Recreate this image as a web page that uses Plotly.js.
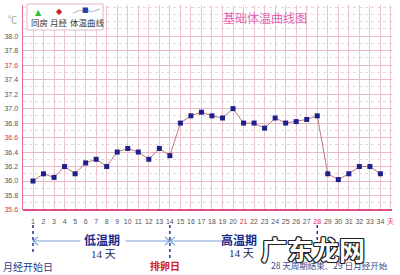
<!DOCTYPE html>
<html><head><meta charset="utf-8">
<script src="https://cdn.plot.ly/plotly-3.0.1.min.js"></script>
<style>html,body{margin:0;padding:0;background:#fff}#chart{width:400px;height:275px}</style>
</head><body><div id="chart"></div>
<script>
// ---- data ----
const days = [1,2,3,4,5,6,7,8,9,10,11,12,13,14,15,16,17,18,19,20,21,22,23,24,25,26,27,28,29,30,31,32,33,34];
const temps = [36.0,36.1,36.05,36.2,36.1,36.25,36.3,36.2,36.4,36.45,36.4,36.3,36.45,36.35,
               36.8,36.9,36.95,36.9,36.87,37.0,36.8,36.8,36.73,36.87,36.8,36.82,36.85,36.9,
               36.1,36.02,36.1,36.2,36.2,36.1];
const mensesDays = [1,2,3,4,5,6,29,30,31,32,33,34];
const intercourseDays = [14];
const yTickVals = [35.6,35.8,36.0,36.2,36.4,36.6,36.8,37.0,37.2,37.4,37.6,37.8,38.0];
const redYTicks = [35.6,36.6,37.6];
const xTickVals = [1,2,3,4,5,6,7,8,9,10,11,12,13,14,15,16,17,18,19,20,21,22,23,24,25,26,27,28,29,30,31,32,33,34,35];
const xTickText = ['1','2','3','4','5','6','7','8','9','10','11','12','13','14','15','16','17','18','19','20','21','22','23','24','25','26','27','28','29','30','31','32','33','34','天'];
const redXTicks = ['21','28','天'];
const cycleStart = 1, ovulationDay = 14, cycleEnd = 28;
const phaseLabels = ['低温期','高温期'];
const phaseLength = ['14 天','14 天'];

// ---- geometry helpers (pixel -> paper) ----
const L=23, R=392, T=5, B=210;
const px = p => (p-L)/(R-L);
const py = p => (B-p)/(B-T);
const CJK = '"Noto Sans CJK SC", "Liberation Sans", sans-serif';

const yText = yTickVals.map(v => redYTicks.includes(v)
   ? `<span style="color:#e03050">${v.toFixed(1)}</span>` : v.toFixed(1));
const xText = xTickText.map(t => redXTicks.includes(t)
   ? `<span style="color:#e03050">${t}</span>` : t);

const traces = [
  {x: days, y: temps, type:'scatter', mode:'lines+markers',
   line:{color:'#c07878', width:1},
   marker:{symbol:'square', size:5, color:'#1e1e8c'}, cliponaxis:false},
  {x: mensesDays, y: mensesDays.map(()=>35.55), type:'scatter', mode:'markers',
   marker:{symbol:'diamond', size:7, color:'#e02030'}, cliponaxis:false},
  {x: intercourseDays, y: intercourseDays.map(()=>35.55), type:'scatter', mode:'markers',
   marker:{symbol:'triangle-up', size:7, color:'#30c030'}, cliponaxis:false}
];

const yA = py(241), ch = 0.0195, cw = 0.48;
const arrowCol = '#7fa4d8';
const shapes = [
  // legend box
  {type:'rect', xref:'paper', yref:'paper', x0:px(27), x1:px(103), y0:py(30), y1:py(4),
   line:{color:'#e0b8c8', width:1}, fillcolor:'#ffffff', layer:'above'},
  // bottom axis line
  {type:'line', xref:'paper', yref:'paper', x0:0, x1:1, y0:0, y1:0, line:{color:'#e0508a', width:2}},
  // dotted markers
  {type:'line', xref:'x', yref:'paper', x0:cycleStart, x1:cycleStart, y0:py(225), y1:py(254), line:{color:'#223388', width:1.5, dash:'dot'}},
  {type:'line', xref:'x', yref:'paper', x0:ovulationDay, x1:ovulationDay, y0:py(225), y1:py(258), line:{color:'#223388', width:1.5, dash:'dot'}},
  {type:'line', xref:'x', yref:'paper', x0:cycleEnd, x1:cycleEnd, y0:py(225), y1:py(248), line:{color:'#223388', width:1.5, dash:'dot'}},
  // low phase arrow
  {type:'path', xref:'x', yref:'paper', path:`M ${cycleStart+cw} ${yA+ch} L ${cycleStart} ${yA} L ${cycleStart+cw} ${yA-ch} M ${cycleStart} ${yA} L 5.5 ${yA}`, line:{color:arrowCol, width:1.2}},
  {type:'path', xref:'x', yref:'paper', path:`M 9.8 ${yA} L ${ovulationDay} ${yA} M ${ovulationDay-cw} ${yA+ch} L ${ovulationDay} ${yA} L ${ovulationDay-cw} ${yA-ch}`, line:{color:arrowCol, width:1.2}},
  // high phase arrow
  {type:'path', xref:'x', yref:'paper', path:`M ${ovulationDay+cw} ${yA+ch} L ${ovulationDay} ${yA} L ${ovulationDay+cw} ${yA-ch} M ${ovulationDay} ${yA} L 18.9 ${yA}`, line:{color:arrowCol, width:1.2}},
  // legend line for temperature curve
  {type:'path', xref:'paper', yref:'paper', path:`M ${px(73)} ${py(13)} Q ${px(80)} ${py(9)} ${px(86)} ${py(11)} T ${px(100)} ${py(9)}`, line:{color:'#a8b4d8', width:1}, layer:'above'}
];

const ann = [];
function A(o){ ann.push(Object.assign({showarrow:false, xref:'paper', yref:'paper', xanchor:'center', yanchor:'middle'}, o)); }
A({x:px(265), y:py(17), text:'基础体温曲线图', font:{family:CJK, size:12, color:'#e066b4'}});
A({x:px(12), y:py(20), text:'℃', font:{family:CJK, size:9, color:'#999'}});
// legend
A({x:px(38), y:py(12), text:'▲', font:{family:'DejaVu Sans', size:8, color:'#30c030'}});
A({x:px(59), y:py(11), text:'◆', font:{family:'DejaVu Sans', size:8, color:'#d02030'}});
A({x:px(85), y:py(10), text:'■', font:{family:'DejaVu Sans', size:7, color:'#2a3aa8'}});
A({x:px(39), y:py(22), text:'同房', font:{family:CJK, size:8.5, color:'#333'}});
A({x:px(59), y:py(22), text:'月经', font:{family:CJK, size:8.5, color:'#333'}});
A({x:px(87), y:py(22), text:'体温曲线', font:{family:CJK, size:8.5, color:'#333'}});
// phase labels
A({x:px(102), y:py(240), text:'<b>'+phaseLabels[0]+'</b>', font:{family:CJK, size:12, color:'#1a2a8a'}});
A({x:px(103), y:py(254), text:phaseLength[0], font:{family:'"Liberation Serif", '+CJK, size:11, color:'#1a2a5a'}});
A({x:px(239), y:py(240), text:'<b>'+phaseLabels[1]+'</b>', font:{family:CJK, size:12, color:'#1a2a8a'}});
A({x:px(241), y:py(253), text:phaseLength[1], font:{family:'"Liberation Serif", '+CJK, size:11, color:'#1a2a5a'}});
A({x:px(28), y:py(266), text:'月经开始日', font:{family:CJK, size:10, color:'#2a3a8a'}});
A({x:px(165), y:py(265), text:'<b>排卵日</b>', font:{family:CJK, size:10, color:'#d01818'}});
A({x:px(329), y:py(265), text:'28 天周期结束、29 日月经开始', font:{family:CJK, size:8.5, color:'#3a4a8a'}});
// watermark with outline
const wm = {x:px(313), y:py(248), text:'<b>广东龙网</b>'};
[[-1,0],[1,0],[0,-1],[0,1],[-1,-1],[1,1],[-1,1],[1,-1]].forEach(([dx,dy])=>
  A(Object.assign({}, wm, {xshift:dx, yshift:dy, font:{family:CJK, size:26, color:'#222'}})));
A(Object.assign({}, wm, {font:{family:CJK, size:26, color:'#ffffff'}}));

const layout = {
  width:400, height:275,
  margin:{l:L, r:400-R, t:T, b:275-B},
  paper_bgcolor:'#fff', plot_bgcolor:'#fff',
  showlegend:false,
  xaxis:{range:[0.05,35.1], tickmode:'array', tickvals:xTickVals, ticktext:xText,
    showgrid:true, gridcolor:'#ecc4cc', gridwidth:1, zeroline:false, showline:false,
    ticks:'', ticklabelstandoff:6,
    tickfont:{family:'Liberation Sans, Arial', size:7, color:'#555'}},
  yaxis:{range:[35.6,38.43], tickmode:'array', tickvals:yTickVals, ticktext:yText,
    showgrid:true, gridcolor:'#eab8c4', gridwidth:1, zeroline:false,
    showline:true, linecolor:'#e07090', linewidth:1.5, ticks:'', ticklabelstandoff:2,
    tickfont:{family:'Liberation Sans, Arial', size:7, color:'#555'},
    minor:{dtick:0.1, tick0:35.6, showgrid:true, gridcolor:'#f0d4da', griddash:'dot', gridwidth:1}},
  shapes:shapes, annotations:ann
};
Plotly.newPlot('chart', traces, layout, {staticPlot:true, displayModeBar:false});
</script></body></html>
